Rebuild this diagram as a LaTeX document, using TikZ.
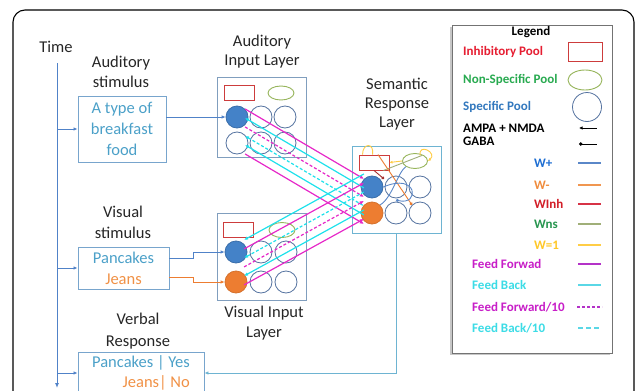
\documentclass[tikz,border=0pt]{standalone}
\usepackage{fontspec}
\setmainfont{Carlito}
\usepackage{tikz}
\usetikzlibrary{arrows.meta,shapes.geometric,positioning,calc}
\definecolor{BoxLine}{RGB}{128,158,190}
\definecolor{StimLine}{RGB}{120,165,205}
\definecolor{PoolLine}{RGB}{85,115,160}
\definecolor{PoolBlue}{RGB}{68,130,200}
\definecolor{PoolOrange}{RGB}{237,125,49}
\definecolor{InhLine}{RGB}{205,60,60}
\definecolor{NsLine}{RGB}{150,180,90}
\definecolor{TealT}{RGB}{75,160,200}
\definecolor{OrangeT}{RGB}{240,145,70}
\definecolor{WireBlue}{RGB}{80,130,200}
\definecolor{OutWire}{RGB}{110,180,210}
\definecolor{FFmag}{RGB}{230,40,200}
\definecolor{FBcyan}{RGB}{30,225,235}
\definecolor{InhT}{RGB}{230,30,50}
\definecolor{NsT}{RGB}{40,170,80}
\definecolor{SpT}{RGB}{50,120,190}
\definecolor{WplusT}{RGB}{30,110,210}
\definecolor{WminusT}{RGB}{240,140,60}
\definecolor{WinhT}{RGB}{210,30,40}
\definecolor{WnsT}{RGB}{40,150,80}
\definecolor{WoneT}{RGB}{255,200,40}
\definecolor{FFT}{RGB}{200,30,200}
\definecolor{FBT}{RGB}{60,220,230}
\definecolor{WplusL}{RGB}{90,135,200}
\definecolor{WminusL}{RGB}{240,150,80}
\definecolor{WinhL}{RGB}{215,50,70}
\definecolor{WnsL}{RGB}{160,175,120}
\definecolor{WoneL}{RGB}{255,205,70}
\definecolor{FFL}{RGB}{180,50,200}
\definecolor{FBL}{RGB}{90,215,230}

\begin{document}
\begin{tikzpicture}[x=1pt,y=-1pt,
    lbl/.style={font=\fontsize{16.5}{20}\selectfont, align=center, text=black!85},
    stimbox/.style={draw=StimLine, line width=0.9pt, inner sep=0pt,
      font=\fontsize{16.5}{21}\selectfont, align=center},
    layerbox/.style={draw=BoxLine, line width=0.9pt, fill=white, inner sep=0pt},
    pool/.style={circle, draw=PoolLine, line width=0.8pt, minimum size=22pt, inner sep=0pt},
    bluepool/.style={pool, fill=PoolBlue, draw=PoolBlue!85!black},
    orangepool/.style={pool, fill=PoolOrange, draw=PoolOrange!90!black},
    inhpool/.style={draw=InhLine, line width=0.9pt, minimum width=30pt,
      minimum height=15pt, inner sep=0pt},
    nspool/.style={ellipse, draw=NsLine, line width=0.9pt, minimum width=26pt,
      minimum height=14pt, inner sep=0pt},
    wire/.style={WireBlue, line width=1pt},
    inarrow/.style={-{Latex[length=4pt,width=3.5pt]}},
    ffw/.style={FFmag, line width=1.2pt, -{Latex[length=4pt,width=3.5pt]}},
    fbk/.style={FBcyan, line width=1.2pt, {Latex[length=4pt,width=3.5pt]}-},
    ffwd/.style={ffw, dash pattern=on 3pt off 2pt},
    fbkd/.style={fbk, dash pattern=on 3pt off 2pt},
    legtxt/.style={font=\fontsize{13}{13.5}\selectfont\bfseries, inner sep=0pt}]

  \useasboundingbox (0,0) rectangle (635,391);
  \clip (0,0) rectangle (635,391);
  % outer frame
  \draw[line width=1.1pt, rounded corners=12pt] (13,10) rectangle (634,430);

  % time axis
  \node[lbl] (time) at (56,47) {Time};
  \coordinate (ttop) at (57,63);
  \coordinate (tbot) at (57,388);
  \draw[wire, -{Latex[length=5pt,width=4pt]}] (ttop) -- (tbot);

  % stimuli and response boxes
  \node[lbl] (audlbl) at (121,72) {Auditory\\stimulus};
  \node[stimbox, text=TealT, minimum width=88, minimum height=66]
    (audbox) at (122,129) {A type of\\breakfast\\food};
  \node[lbl, font=\fontsize{16.5}{21}\selectfont] (vislbl) at (123,222) {Visual\\stimulus};
  \node[stimbox, minimum width=91, minimum height=42]
    (visbox) at (123.5,268) {\color{TealT}Pancakes\\\color{OrangeT}Jeans};
  \node[lbl, font=\fontsize{16.5}{22}\selectfont] (verlbl) at (138,331) {Verbal\\Response};
  \node[stimbox, align=right, font=\fontsize{16.5}{20}\selectfont,
    minimum width=126, minimum height=42]
    (verbox) at (141,373) {\color{TealT}Pancakes | Yes\\\color{OrangeT}Jeans| No};

  \draw[wire, inarrow] (audbox.west -| ttop) -- (audbox.west);
  \draw[wire, inarrow] (visbox.west -| ttop) -- (visbox.west);
  \draw[wire, inarrow] (verbox.west -| ttop) -- (verbox.west);

  % auditory input layer
  \node[lbl, font=\fontsize{16.5}{19}\selectfont] (audLlbl) at (262,52) {Auditory\\Input Layer};
  \node[layerbox, minimum width=89, minimum height=80] (audL) at (261.5,117) {};
  \node[inhpool] (arect) at (239.5,92.5) {};
  \node[nspool] (aell) at (281,93) {};
  \foreach \n/\xx/\yy/\sty in {1/237/117/bluepool, 2/261/117/pool, 3/285/117/pool,
                               4/237/143/pool, 5/261/143/pool, 6/285/143/pool}
    \node[\sty] (aud\n) at (\xx,\yy) {};

  % visual input layer
  \node[lbl] (visLlbl) at (264,323) {Visual Input\\Layer};
  \node[layerbox, minimum width=89, minimum height=87] (visL) at (261.5,256.5) {};
  \node[inhpool] (vrect) at (238,230) {};
  \node[nspool, minimum height=15] (vell) at (282,230) {};
  \foreach \n/\xx/\yy/\sty in {1/236/252/bluepool, 2/261/252/pool, 3/286/252/pool,
                               4/236/282/orangepool, 5/261/282/pool, 6/286/282/pool}
    \node[\sty] (vis\n) at (\xx,\yy) {};

  % semantic response layer
  \node[lbl, font=\fontsize{16.5}{19}\selectfont] (semLlbl) at (397,104) {Semantic\\Response\\Layer};
  \node[layerbox, draw=OutWire, minimum width=89, minimum height=87] (semL) at (396.5,189.5) {};
  \node[inhpool] (srect) at (374,162.5) {};
  \node[nspool, minimum width=25, minimum height=15] (sell) at (415,161) {};
  \foreach \n/\xx/\yy/\sty in {1/372/187/bluepool, 2/396/187/pool, 3/420/187/pool,
                               4/372/213/orangepool, 5/396/213/pool, 6/420/213/pool}
    \node[\sty] (sem\n) at (\xx,\yy) {};

  % recurrent weights inside the semantic layer
  \coordinate (bdot) at ($(sem2)!0.5!(sem5)$);
  \draw[WoneL, line width=0.9pt] ([xshift=4pt]srect.north west)
    .. controls +(0,-12) and +(2,-12) .. ([xshift=14pt]srect.north west);
  \draw[WoneL, line width=0.9pt, -{Latex[length=3pt,width=3pt]}] ([xshift=-4pt]sell.north east)
    .. controls +(-2,-13) and +(10,-8) .. (sell.east);
  \draw[WoneL, line width=0.9pt, -{Latex[length=3pt,width=3pt]}] (sell.west) -- (srect.east);
  \draw[WnsL, line width=0.9pt] ([xshift=-6pt]srect.south east) -- ([xshift=-2pt]sell.north east);
  \draw[PoolOrange, line width=0.9pt, -{Circle[length=3pt]}] ([xshift=4pt]srect.north) -- (sem6.north west);
  \draw[InhLine!80!black, line width=0.9pt, -{Circle[length=3pt]}] (srect.south)
    -- ($(sem1.north east)!0.5!(sem2.north west)$);
  \draw[WplusL, line width=0.9pt, -{Circle[length=3pt]}] (sem1.east)
    .. controls (418,172) and (420,206) .. (bdot);
  \draw[WplusL, line width=0.9pt] (sem4.north east)
    .. controls (392,198) and (398,172) .. (sell.south west);

  % input wires
  \draw[wire, inarrow] (aud1.west -| audbox.east) -- (aud1.west);
  \draw[wire, inarrow] ($(visbox.east)+(0,-10)$) -- ++(24,0) |- (vis1.west);
  \draw[PoolOrange, line width=1pt, inarrow] ($(visbox.east)+(0,9)$) -- ++(24,0) |- (vis4.west);
  \draw[OutWire, line width=1pt, inarrow] (semL.south) |- (verbox.east);

  % feed forward / feed back bundles
  \foreach \k/\sty in {0/ffw,1/fbk,2/ffwd,3/fbkd,4/fbk,5/ffw}
    \draw[\sty] ($(aud1.north east)+(0,9*\k)$) -- ($(sem1.north west)+(0,9*\k)$);
  \foreach \k/\sty in {0/fbk,1/ffw,2/fbkd,3/ffwd,4/fbk,5/ffw}
    \draw[\sty] ($(vis1.north east)+(0,9*\k-4)$) -- ($(sem1.north west)+(0,9*\k-5)$);

  % legend
  \node[fill=black!22, minimum width=160, minimum height=328, inner sep=0pt] (legshadow) at (530,191) {};
  \node[draw=black!55, fill=white, line width=0.7pt, minimum width=160,
    minimum height=328, inner sep=0pt] (legend) at (532,189) {};
  \node[legtxt] (legtitle) at (531,32) {Legend};
  \node[legtxt, text=InhT, anchor=west] (lginh) at (463,52) {Inhibitory Pool};
  \node[inhpool, minimum width=34, minimum height=19] (lgrect) at (585,52) {};
  \node[legtxt, text=NsT, anchor=west] (lgns) at (463,80) {Non-Specific Pool};
  \node[nspool, minimum width=34, minimum height=20] (lgell) at (585,80) {};
  \node[legtxt, text=SpT, anchor=west] (lgsp) at (463,107) {Specific Pool};
  \node[pool, minimum size=29] (lgcirc) at (587,107) {};
  \node[legtxt, anchor=west, align=left] (lgrec) at (463,135) {AMPA + NMDA\\GABA};
  \draw[black, line width=1pt, {Latex[length=3.5pt,width=3.5pt]}-] (579,128) -- (597,128);
  \draw[black, line width=1pt, {Circle[length=3.5pt]}-] (579,144) -- (597,144);
  \foreach \lab/\col/\lcol/\yy [count=\i] in {W+/WplusT/WplusL/163, W-/WminusT/WminusL/185,
      WInh/WinhT/WinhL/204, Wns/WnsT/WnsL/224, W=1/WoneT/WoneL/245} {
    \node[legtxt, text=\col, anchor=west] (lgw\i) at (534,\yy) {\lab};
    \draw[\lcol, line width=1.1pt] (578,\yy) -- (601,\yy);
  }
  \node[legtxt, text=FFT, anchor=west] (lgff) at (472,264) {Feed Forwad};
  \draw[FFL, line width=1.1pt] (578,264) -- (601,264);
  \node[legtxt, text=FBT, anchor=west] (lgfb) at (472,285) {Feed Back};
  \draw[FBL, line width=1.1pt] (578,285) -- (601,285);
  \node[legtxt, text=FFT, anchor=west] (lgffd) at (472,307) {Feed Forward/10};
  \draw[FFL, line width=1.1pt, dash pattern=on 3pt off 2pt] (577,307) -- (602,307);
  \node[legtxt, text=FBT, anchor=west] (lgfbd) at (472,328) {Feed Back/10};
  \draw[FBL, line width=1.1pt, dash pattern=on 5pt off 3pt] (578,328) -- (601,328);
\end{tikzpicture}
\end{document}
